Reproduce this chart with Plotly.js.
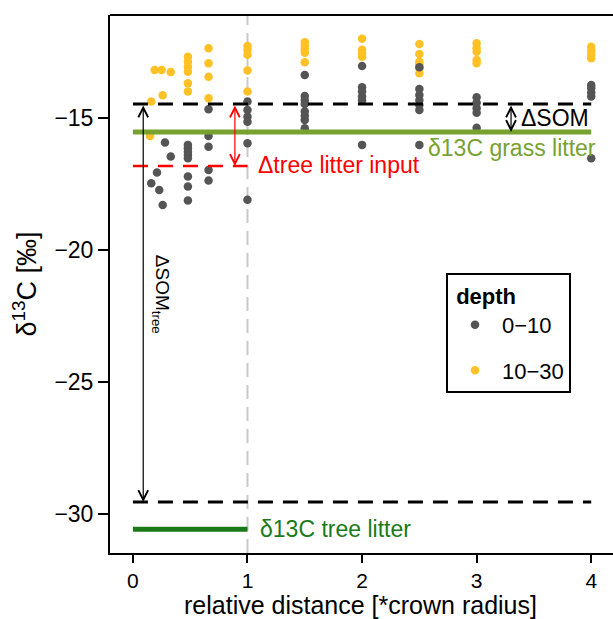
<!DOCTYPE html>
<html>
<head>
<meta charset="utf-8">
<script src="https://cdn.plot.ly/plotly-3.0.1.min.js"></script>
<style>html,body{margin:0;padding:0;background:#fff;}#chart{width:613px;height:619px;}</style>
</head>
<body>
<div id="chart"></div>
<script>
// depth 0-10 cm samples
const x0_10 = [0.16,0.21,0.23,0.26,0.28,0.33,
  0.48,0.48,0.48,0.48,0.48,0.48,0.48,0.48,
  0.66,0.66,0.66,0.66,0.66,
  1,1,1,1,1,1,
  1.5,1.5,1.5,1.5,1.5,1.5,1.5,1.5,
  2,2,2,2,2,2,
  2.5,2.5,2.5,2.5,2.5,2.5,2.5,
  3,3,3,3,3,
  4,4,4,4,4];
const y0_10 = [-17.47,-17.07,-17.73,-18.3,-15.93,-16.46,
  -16.02,-16.15,-16.28,-16.4,-16.53,-17.22,-17.6,-18.13,
  -14.67,-15.68,-16.09,-16.97,-17.37,
  -14.38,-14.7,-14.95,-15.14,-15.96,-18.1,
  -13.37,-14.17,-14.32,-14.47,-14.76,-14.92,-15.08,-15.39,
  -13.03,-13.84,-14.0,-14.19,-14.34,-16.02,
  -13.08,-13.9,-14.13,-14.32,-14.51,-14.7,-16.02,
  -14.22,-14.42,-14.63,-14.8,-15.37,
  -13.75,-13.87,-14.04,-14.19,-16.53];
// depth 10-30 cm samples
const x10_30 = [0.15,0.16,0.19,0.25,0.26,0.33,
  0.48,0.48,0.48,0.48,0.48,0.48,
  0.66,0.66,0.66,0.66,
  1,1,1,1,1,
  1.5,1.5,1.5,1.5,1.5,
  2,2,2,2,
  2.5,2.5,2.5,2.5,2.5,2.5,
  3,3,3,3,3,
  4,4,4,4];
const y10_30 = [-15.68,-14.38,-13.18,-13.18,-14.14,-13.26,
  -12.68,-12.87,-13.06,-13.25,-13.69,-14.0,
  -12.36,-12.93,-13.44,-14.25,
  -12.27,-12.42,-12.61,-13.2,-14.0,
  -12.13,-12.26,-12.4,-12.53,-12.89,
  -12.0,-12.42,-12.55,-12.68,
  -12.2,-12.58,-12.87,-13.0,-13.12,-13.31,
  -12.17,-12.36,-12.49,-12.8,-12.93,
  -12.3,-12.45,-12.61,-12.74];

// reference levels (per mille)
const somLevel = -14.47;        // mean SOM outside crown
const grassLitter = -15.53;     // δ13C grass litter
const treeInputLevel = -16.82;  // Δtree litter input level
const somTreeLevel = -29.55;    // SOM under tree end
const treeLitter = -30.58;      // δ13C tree litter
const fullSpan = [0, 4];
const crownSpan = [0, 1];
const arrowX = {somTree: 0.09, treeInput: 0.89, som: 3.3};

const xTicks = [0,1,2,3,4];
const yTicks = [-15,-20,-25,-30];
const yTickText = ['\u221215','\u221220','\u221225','\u221230'];

const grey = '#555555', orange = '#FFC125';
const grassCol = '#78A22F', treeCol = '#1A7A1A', red = '#FF0000';

const traces = [
  {x: x10_30, y: y10_30, mode: 'markers', type: 'scatter', name: '10\u221230', legendgroup: 'b',
   marker: {color: orange, size: 8.5}, legendrank: 2},
  {x: x0_10, y: y0_10, mode: 'markers', type: 'scatter', name: '0\u221210', legendgroup: 'a',
   marker: {color: grey, size: 8.5}, legendrank: 1},
  {x: fullSpan, y: [grassLitter, grassLitter], mode: 'lines', showlegend: false, hoverinfo: 'skip',
   line: {color: grassCol, width: 5}},
  {x: fullSpan, y: [somLevel, somLevel], mode: 'lines', showlegend: false, hoverinfo: 'skip',
   line: {color: 'black', width: 3, dash: '15px,10px'}},
  {x: fullSpan, y: [somTreeLevel, somTreeLevel], mode: 'lines', showlegend: false, hoverinfo: 'skip',
   line: {color: 'black', width: 3, dash: '15px,10px'}},
  {x: crownSpan, y: [treeInputLevel, treeInputLevel], mode: 'lines', showlegend: false, hoverinfo: 'skip',
   line: {color: red, width: 2.5, dash: '15px,10px'}},
  {x: crownSpan, y: [treeLitter, treeLitter], mode: 'lines', showlegend: false, hoverinfo: 'skip',
   line: {color: treeCol, width: 5}}
];

function dblArrow(x, y1, y2, col) {
  return {x: x, y: y2, ax: x, ay: y1, xref: 'x', yref: 'y', axref: 'x', ayref: 'y',
    text: '', showarrow: true, arrowside: 'end+start', arrowhead: 5, startarrowhead: 5,
    arrowsize: 1.6, startarrowsize: 1.6, arrowwidth: 1.2, arrowcolor: col, standoff: 0, startstandoff: 0};
}

const fontFam = 'Liberation Sans, Arial, sans-serif';
const annFont = 23;
const annotations = [
  dblArrow(arrowX.somTree, somLevel, somTreeLevel, 'black'),
  dblArrow(arrowX.treeInput, somLevel, treeInputLevel, red),
  dblArrow(arrowX.som, somLevel, grassLitter, 'black'),
  {x: 3.37, y: -15.0, xref: 'x', yref: 'y', xanchor: 'left', yanchor: 'middle', showarrow: false,
   text: '\u0394SOM', font: {family: fontFam, size: annFont, color: 'black'}},
  {x: 2.56, y: -16.12, xref: 'x', yref: 'y', xanchor: 'left', yanchor: 'middle', showarrow: false,
   text: '\u03b413C grass litter', font: {family: fontFam, size: annFont, color: grassCol}},
  {x: 1.07, y: -16.8, xref: 'x', yref: 'y', xanchor: 'left', yanchor: 'middle', showarrow: false,
   text: '\u0394tree litter input', font: {family: fontFam, size: annFont, color: red}},
  {x: 1.09, y: -30.57, xref: 'x', yref: 'y', xanchor: 'left', yanchor: 'middle', showarrow: false,
   text: '\u03b413C tree litter', font: {family: fontFam, size: annFont, color: treeCol}},
  {x: 0.245, y: -21.7, xref: 'x', yref: 'y', xanchor: 'center', yanchor: 'middle', showarrow: false,
   textangle: 90, text: '\u0394SOM<sub>tree</sub>', font: {family: fontFam, size: 19, color: 'black'}},
  {x: 0.499, y: -0.097, xref: 'paper', yref: 'paper', xanchor: 'center', yanchor: 'middle', showarrow: false,
   borderpad: 0, text: 'relative distance [*crown radius]', font: {family: fontFam, size: 25, color: 'black'}}
];

const layout = {
  width: 613, height: 619,
  margin: {l: 110, r: 0, t: 15, b: 66},
  paper_bgcolor: 'white', plot_bgcolor: 'white',
  font: {family: fontFam, size: 22, color: 'black'},
  showlegend: true,
  xaxis: {range: [-0.2, 4.19], tickvals: xTicks, showgrid: false, zeroline: false,
    showline: true, linecolor: 'black', linewidth: 2, ticks: 'outside', ticklen: 8, tickwidth: 2,
    tickcolor: 'black', tickfont: {size: 21}},
  yaxis: {range: [-31.48, -11.1], tickvals: yTicks, ticktext: yTickText, showgrid: false, zeroline: false,
    showline: true, linecolor: 'black', linewidth: 2, ticks: 'outside', ticklen: 10, tickwidth: 2,
    tickcolor: 'black', tickfont: {size: 23},
    title: {text: '\u03b4<sup>13</sup>C [\u2030]', font: {size: 27}, standoff: 10}},
  legend: {x: 0.668, y: 0.52, xanchor: 'left', yanchor: 'top', bordercolor: 'black', borderwidth: 2,
    bgcolor: 'white', font: {size: 22}, traceorder: 'grouped', tracegroupgap: 14, itemwidth: 44,
    title: {text: ' <b>depth</b>', font: {size: 22}}},
  shapes: [
    {type: 'line', xref: 'x', yref: 'paper', x0: 1, x1: 1, y0: 0, y1: 1,
     line: {color: '#C8C8C8', width: 2, dash: '14px,8px'}, layer: 'below'},
    {type: 'line', xref: 'paper', yref: 'paper', x0: 0, x1: 1, y0: 1, y1: 1,
     line: {color: 'black', width: 2}}
  ],
  annotations: annotations
};

Plotly.newPlot('chart', traces, layout, {displayModeBar: false, staticPlot: true});
</script>
</body>
</html>
